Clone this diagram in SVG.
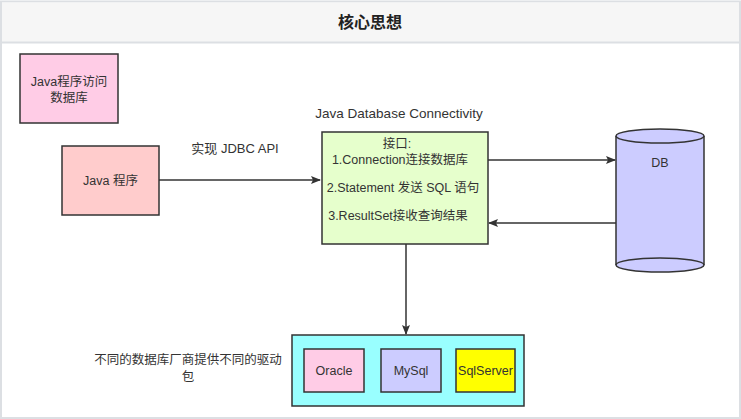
<svg xmlns="http://www.w3.org/2000/svg" width="741" height="419" viewBox="0 0 741 419">
<defs>
<marker id="arr" markerWidth="10" markerHeight="8" refX="9" refY="4" orient="auto" markerUnits="userSpaceOnUse">
<path d="M0,0 L10,4 L0,8 L2,4 Z" fill="#333"/>
</marker>
<style>
text{font-family:"Liberation Sans","Noto Sans CJK SC",sans-serif;font-size:12.5px;fill:#333;text-anchor:middle}
.box{stroke:#333;stroke-width:1.5}
.edge{stroke:#333;stroke-width:1.5;fill:none;marker-end:url(#arr)}
</style>
</defs>
<rect x="0" y="0" width="741" height="419" fill="#fff"/>
<rect x="1" y="1.5" width="739" height="416.5" fill="#fff" stroke="#dcdfe3" stroke-width="2"/>
<rect x="2" y="2.5" width="737" height="39.5" fill="#f6f6f6"/>
<line x1="1" y1="42.5" x2="740" y2="42.5" stroke="#dcdfe3" stroke-width="2"/>
<text x="370" y="28" style="font-size:16px;font-weight:bold;fill:#222">核心思想</text>

<g id="legend">
<rect class="box" x="20" y="54" width="98" height="69" fill="#ffcce6"/>
<text x="69" y="86">Java程序访问</text>
<text x="69" y="102">数据库</text>
</g>

<g id="java">
<rect class="box" x="62" y="146" width="97" height="69" fill="#ffcccc"/>
<text x="110.5" y="185">Java 程序</text>
</g>

<text x="235" y="153" style="font-size:13px">实现 JDBC API</text>
<text x="399" y="118" style="font-size:13.5px">Java Database Connectivity</text>

<g id="jdbc">
<rect class="box" x="322" y="132" width="166" height="112" fill="#e6ffcc"/>
<text x="397" y="148">接口:</text>
<text x="400" y="164">1.Connection连接数据库</text>
<text x="403" y="192">2.Statement 发送 SQL 语句</text>
<text x="398" y="220">3.ResultSet接收查询结果</text>
</g>

<g id="db">
<path class="box" d="M616,136 L616,265 A44,7 0 0 0 704,265 L704,136" fill="#ccccff"/>
<ellipse class="box" cx="660" cy="136" rx="44" ry="7" fill="#ccccff"/>
<path d="M616,265 A44,7 0 0 1 704,265" fill="none" stroke="#333" stroke-width="1.5"/>
<text x="660" y="167">DB</text>
</g>

<g id="drivers">
<rect class="box" x="292" y="335" width="232" height="71" fill="#99ffff"/>
<rect class="box" x="304" y="349" width="60" height="43" fill="#ffcce6"/>
<text x="334" y="375">Oracle</text>
<rect class="box" x="381" y="349" width="60" height="43" fill="#ccccff"/>
<text x="411" y="375">MySql</text>
<rect class="box" x="456" y="349" width="59" height="43" fill="#ffff00"/>
<text x="485.5" y="375">SqlServer</text>
</g>

<text x="188" y="364">不同的数据库厂商提供不同的驱动</text>
<text x="188" y="381">包</text>

<g id="connectors">
<line class="edge" x1="159" y1="180" x2="320" y2="180"/>
<line class="edge" x1="488" y1="160" x2="615" y2="160"/>
<line class="edge" x1="616" y1="223" x2="489" y2="223"/>
<line class="edge" x1="406" y1="244" x2="406" y2="334"/>
</g>
</svg>
